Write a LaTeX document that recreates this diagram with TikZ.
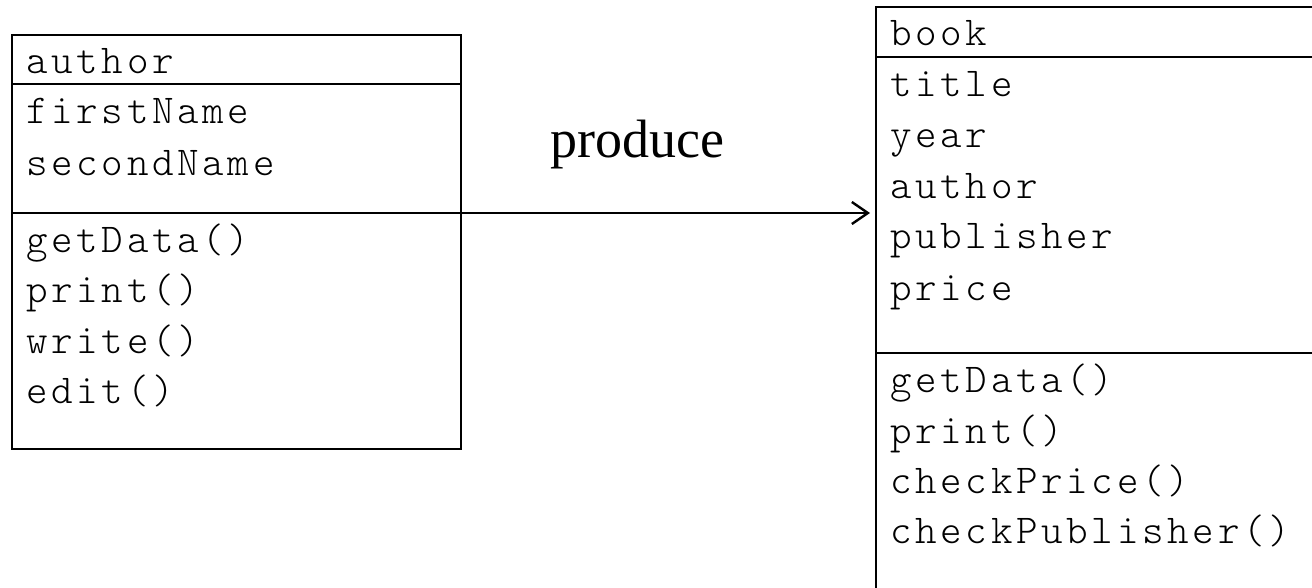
\documentclass[tikz,border=0pt]{standalone}
\usepackage{fontspec}
\usetikzlibrary{arrows.meta}
\newfontfamily\umlfont[LetterSpace=9]{Latin Modern Mono Light}
\newfontfamily\labelfont{Liberation Serif}
\tikzset{
  umlbox/.style={draw=black, line width=2.4pt, rectangle, inner sep=0pt, anchor=north west},
  divider/.style={draw=black, line width=2.4pt},
  member/.style={anchor=base west, inner sep=0pt, font=\umlfont\fontsize{41}{46}\selectfont},
  connector/.style={draw=black, line width=2.4pt, -{Straight Barb[length=16pt,width=22pt,line width=2.4pt]}},
  rellabel/.style={anchor=base, inner sep=0pt, font=\labelfont\fontsize{54}{60}\selectfont}
}
\begin{document}
\begin{tikzpicture}[x=1pt,y=-1pt]
\useasboundingbox (0,0) rectangle (1312,587);
\clip (0,0) rectangle (1312,587);
% author class
\node[umlbox, minimum width=449pt, minimum height=414pt] (author) at (11,34) {};
\draw[divider] (author.west |- 0,84) -- (author.east |- 0,84);
\draw[divider] (author.west |- 0,213) -- (author.east |- 0,213);
\node[member] (aname) at (26,73) {author};
\node[member] (a1) at (26,123) {firstName};
\node[member] (a2) at (26,175) {secondName};
\node[member] (am1) at (26,252) {getData()};
\node[member] (am2) at (26,302) {print()};
\node[member] (am3) at (26,353) {write()};
\node[member] (am4) at (26,403) {edit()};
% book class
\node[umlbox, minimum width=500pt, minimum height=650pt] (book) at (875,6) {};
\draw[divider] (book.west |- 0,57) -- (book.east |- 0,57);
\draw[divider] (book.west |- 0,353) -- (book.east |- 0,353);
\node[member] (bname) at (890,45) {book};
\node[member] (b1) at (890,96) {title};
\node[member] (b2) at (890,147) {year};
\node[member] (b3) at (890,198) {author};
\node[member] (b4) at (890,248) {publisher};
\node[member] (b5) at (890,300) {price};
\node[member] (bm1) at (890,392) {getData()};
\node[member] (bm2) at (890,443) {print()};
\node[member] (bm3) at (890,493) {checkPrice()};
\node[member] (bm4) at (890,543) {checkPublisher()};
% relation
\coordinate (start) at (author.east |- 0,213);
\draw[connector, shorten >=5pt] (start) -- (book.west |- start);
\node[rellabel] (produce) at (637,157) {produce};
\end{tikzpicture}
\end{document}
